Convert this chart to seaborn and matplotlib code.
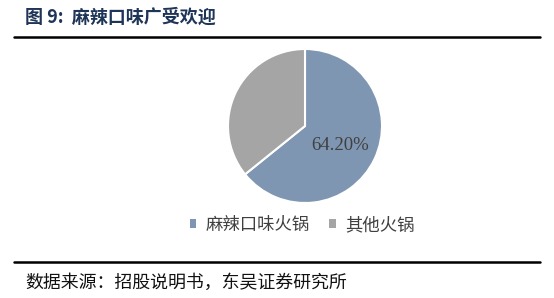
import matplotlib
matplotlib.use("Agg")
import matplotlib.pyplot as plt
from matplotlib.patches import Patch
from matplotlib.lines import Line2D
import seaborn as sns

categories = ["麻辣口味火锅", "其他火锅"]
shares = [64.20, 35.80]
title = "图 9:  麻辣口味广受欢迎"
source = "数据来源：招股说明书，东吴证券研究所"

sns.set_theme(style="white")
plt.rcParams['font.family'] = ['Noto Sans CJK SC', 'DejaVu Sans']
colors = ["#7F96B2", "#A5A5A5"]

fig = plt.figure(figsize=(5.54, 2.98), dpi=100)
W, H = 554, 298

# title and rules
fig.text(25 / W, 1 - 17 / H, title, fontsize=13, fontweight="bold",
         color="#1F3557", va="center", ha="left")
fig.add_artist(Line2D([14 / W, 540 / W], [1 - 37 / H, 1 - 37 / H],
                      color="black", lw=1.8))
fig.add_artist(Line2D([14 / W, 540 / W], [1 - 262 / H, 1 - 262 / H],
                      color="black", lw=1.8))
fig.text(25 / W, 1 - 283 / H, source, fontsize=12.9, color="#111111",
         va="center", ha="left")

# pie
cx, cy, r = 305, 126, 77
ax = fig.add_axes([(cx - r) / W, 1 - (cy + r) / H, 2 * r / W, 2 * r / H])
wedges, _ = ax.pie(shares, colors=colors, startangle=90, counterclock=False,
                   wedgeprops=dict(edgecolor="white", linewidth=1.5))
ax.set_xlim(-1, 1)
ax.set_ylim(-1, 1)
ax.set_aspect("equal")
ax.axis("off")
ax.text(0.45, -0.25, f"{shares[0]:.2f}%", fontsize=13.5, color="#404040",
        ha="center", va="center", family=["Liberation Serif", "DejaVu Serif"])

handles = [Patch(facecolor=c, edgecolor="none") for c in colors]
fig.legend(handles, categories, loc="center", bbox_to_anchor=(302 / W, 1 - 225 / H),
           ncol=2, frameon=False, fontsize=12.5, labelcolor="#404040",
           handlelength=0.4, handleheight=0.4, handletextpad=0.5, columnspacing=1.15)

fig.savefig("out.png", dpi=100)
